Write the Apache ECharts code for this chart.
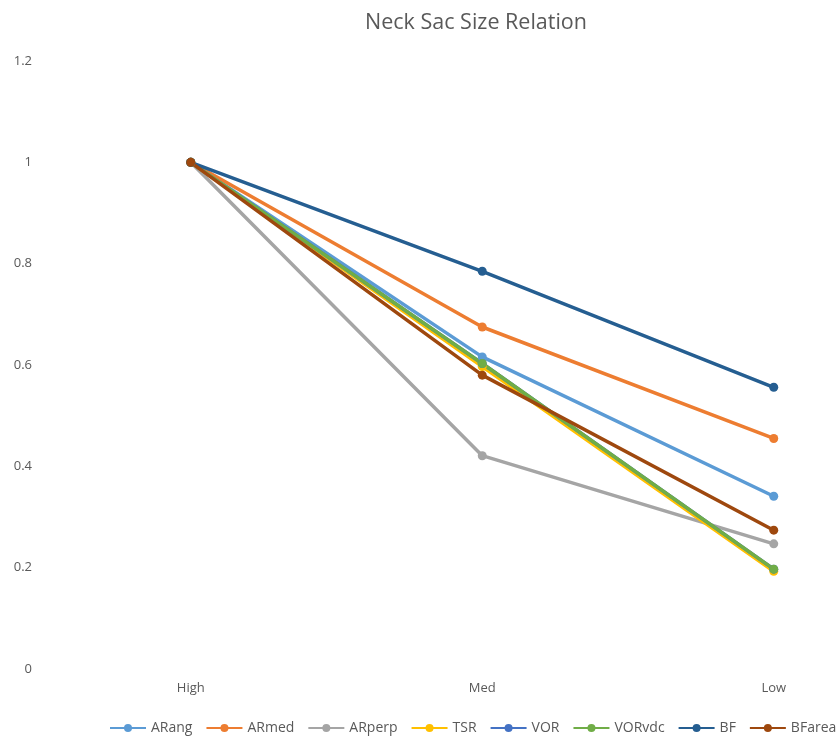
<!DOCTYPE html>
<html>
<head>
<meta charset="utf-8">
<script src="https://cdn.jsdelivr.net/npm/echarts@6/dist/echarts.min.js"></script>
<style>html,body{margin:0;padding:0;background:#fff}#c{width:840px;height:740px}</style>
</head>
<body>
<div id="c"></div>
<script>
const categories = ['High', 'Med', 'Low'];
const yTicks = [0, 0.2, 0.4, 0.6, 0.8, 1, 1.2];
const seriesNames = ['ARang', 'ARmed', 'ARperp', 'TSR', 'VOR', 'VORvdc', 'BF', 'BFarea'];
const ARang  = [1.0, 0.616, 0.341];
const ARmed  = [1.0, 0.675, 0.455];
const ARperp = [1.0, 0.421, 0.247];
const TSR    = [1.0, 0.597, 0.193];
const VOR    = [1.0, 0.603, 0.197];
const VORvdc = [1.0, 0.603, 0.197];
const BF     = [1.0, 0.785, 0.556];
const BFarea = [1.0, 0.580, 0.274];
const seriesValues = [ARang, ARmed, ARperp, TSR, VOR, VORvdc, BF, BFarea];
const colors = ['#5B9BD5', '#ED7D31', '#A5A5A5', '#FFC000', '#4472C4', '#70AD47', '#255E91', '#9E480E'];

const FONT = '"Open Sans", "Liberation Sans", sans-serif';
const chart = echarts.init(document.getElementById('c'));
chart.setOption({
  animation: false,
  color: colors,
  title: {
    text: 'Neck Sac Size Relation',
    left: 471, top: 7, textAlign: 'center',
    textStyle: { fontFamily: FONT, fontSize: 21.5, fontWeight: 'normal', color: '#595959' }
  },
  legend: {
    left: 109, top: 721, width: 900, padding: 0,
    itemWidth: 36, itemHeight: 10, itemGap: 13,
    textStyle: { fontFamily: FONT, fontSize: 14, color: '#595959' },
    data: seriesNames
  },
  grid: { left: 45, top: 61, width: 874.5, height: 608, outerBoundsMode: 'none', containLabel: false },
  xAxis: {
    type: 'category', data: categories, boundaryGap: true,
    axisLine: { show: false }, axisTick: { show: false },
    axisLabel: { fontFamily: FONT, fontSize: 13, color: '#595959', margin: 13 }
  },
  yAxis: {
    type: 'value', min: 0, max: 1.2, interval: 0.2,
    splitLine: { show: false }, axisLine: { show: false }, axisTick: { show: false },
    axisLabel: { fontFamily: FONT, fontSize: 13, color: '#595959', margin: 13,
      formatter: v => { const t = yTicks.find(x => Math.abs(x - v) < 1e-6); return String(t !== undefined ? t : v); } }
  },
  series: seriesNames.map((n, i) => ({
    name: n, type: 'line', data: seriesValues[i],
    symbol: 'circle', symbolSize: 9,
    lineStyle: { width: 3.5 },
    itemStyle: { color: colors[i] }
  }))
});
</script>
</body>
</html>
